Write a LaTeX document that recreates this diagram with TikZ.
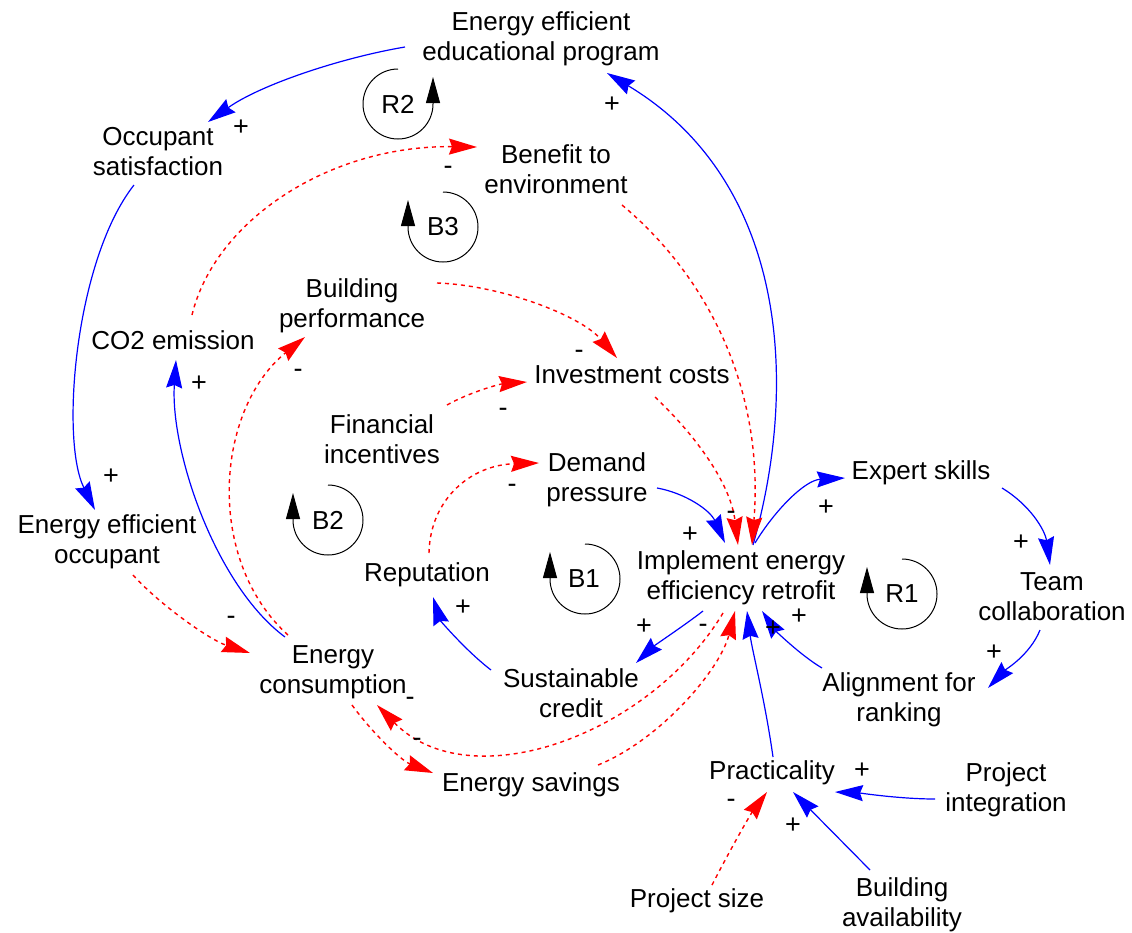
\documentclass[tikz,border=0pt]{standalone}
\usepackage{fontspec}
\setmainfont{Liberation Sans}
\usetikzlibrary{arrows.meta,calc}
\begin{document}
\begin{tikzpicture}[x=1pt,y=-1pt,
  var/.style={font=\fontsize{26}{30}\selectfont, align=center, inner sep=0pt},
  sgn/.style={font=\fontsize{27}{27}\selectfont, inner sep=0pt},
  lbl/.style={font=\fontsize{26}{30}\selectfont, inner sep=0pt},
  plink/.style={draw=blue, line width=1.2pt, -{Stealth[length=28pt,width=16pt,inset=3pt]}},
  nlink/.style={draw=red, line width=1.4pt, dash pattern=on 4pt off 4pt, -{Stealth[length=28pt,width=16pt,inset=3pt]}},
  loopc/.style={draw=black, line width=1pt, -{Triangle[length=26pt,width=14pt]}}]
\useasboundingbox (0,0) rectangle (1132,932);
\fill[white] (0,0) rectangle (1132,932);

% variables
\node[var] (EEP) at (541,39) {Energy efficient\\educational program};
\node[var] (OS) at (158,152) {Occupant\\satisfaction};
\node[var] (BE) at (556,169) {Benefit to\\environment};
\node[var] (BP) at (352,306) {Building\\performance};
\node[var] (CO2) at (173,340) {CO2 emission};
\node[var] (IC) at (632,375) {Investment costs};
\node[var] (FI) at (382,439) {Financial\\incentives};
\node[var] (DP) at (597,480) {Demand\\pressure};
\node[var] (ES) at (921,473) {Expert skills};
\node[var] (EEO) at (107,542) {Energy efficient\\occupant};
\node[var] (Rep) at (427,575) {Reputation};
\node[var] (IEER) at (741,578) {Implement energy\\efficiency retrofit};
\node[var] (TC) at (1052,597) {Team\\collaboration};
\node[var] (EC) at (333,672) {Energy\\consumption};
\node[var] (SC) at (571,693) {Sustainable\\credit};
\node[var] (AR) at (899,700) {Alignment for\\ranking};
\node[var] (ESav) at (531,785) {Energy savings};
\node[var] (Pract) at (772,773) {Practicality};
\node[var] (PI) at (1006,790) {Project\\integration};
\node[var] (PS) at (697,901) {Project size};
\node[var] (BA) at (902,905) {Building\\availability};

% loop labels
\node[lbl] (R2) at (398,104) {R2};
\node[lbl] (B3) at (443,227) {B3};
\node[lbl] (B2) at (328,520) {B2};
\node[lbl] (B1) at (584,579) {B1};
\node[lbl] (R1) at (902,594) {R1};

% loop arrows
\draw[loopc] (398,69) arc[start angle=-90, end angle=-360, radius=35] -- ++(0,-27);
\draw[loopc] (443,192) arc[start angle=-90, end angle=180, radius=35] -- ++(0,-27);
\draw[loopc] (328,485) arc[start angle=-90, end angle=180, radius=35] -- ++(0,-27);
\draw[loopc] (585,544) arc[start angle=-90, end angle=180, radius=35] -- ++(0,-27);
\draw[loopc] (902,559) arc[start angle=-90, end angle=180, radius=35] -- ++(0,-27);

% connectors
\draw[plink] ($(EEP)+(-136,8)$) .. controls (340,58) and (260,85) .. ($(OS)+(50,-30)$);
\draw[plink] ($(IEER)+(12,-33)$) .. controls (800,380) and (785,180) .. ($(EEP)+(66,34)$);
\draw[plink] ($(OS)+(-24,33)$) .. controls (75,260) and (60,440) .. ($(EEO)+(-12,-32)$);
\draw[nlink] ($(EEO)+(26,33)$) .. controls (160,605) and (210,640) .. ($(EC)+(-83,-19)$);
\draw[plink] ($(EC)+(-48,-35)$) .. controls (215,585) and (170,450) .. ($(CO2)+(3,20)$);
\draw[nlink] ($(CO2)+(19,-25)$) .. controls (215,220) and (330,145) .. ($(BE)+(-79,-22)$);
\draw[nlink] ($(EC)+(-45,-37)$) .. controls (205,560) and (215,410) .. ($(BP)+(-47,31)$);
\draw[nlink] ($(BP)+(85,-23)$) .. controls (500,285) and (580,315) .. ($(IC)+(-15,-17)$);
\draw[nlink] ($(FI)+(65,-34)$) .. controls (470,392) and (500,384) .. ($(IC)+(-105,7)$);
\draw[nlink] ($(Rep)+(2,-22)$) .. controls (430,500) and (470,465) .. ($(DP)+(-58,-17)$);
\draw[plink] ($(DP)+(60,8)$) .. controls (685,493) and (710,510) .. ($(IEER)+(-16,-35)$);
\draw[nlink] ($(IC)+(23,22)$) .. controls (690,430) and (730,480) .. ($(IEER)+(-3,-33)$);
\draw[nlink] ($(BE)+(66,36)$) .. controls (700,270) and (765,380) .. ($(IEER)+(11,-33)$);
\draw[plink] ($(IEER)+(14,-35)$) .. controls (775,510) and (805,480) .. ($(ES)+(-76,5)$);
\draw[plink] ($(ES)+(81,15)$) .. controls (1030,505) and (1045,530) .. ($(TC)+(-2,-32)$);
\draw[plink] ($(TC)+(-12,33)$) .. controls (1030,655) and (1005,670) .. ($(AR)+(89,-12)$);
\draw[plink] ($(AR)+(-77,-32)$) .. controls (800,655) and (775,630) .. ($(IEER)+(21,33)$);
\draw[plink] ($(Pract)+(1,-16)$) .. controls (765,700) and (752,650) .. ($(IEER)+(6,33)$);
\draw[plink] ($(IEER)+(-38,33)$) .. controls (685,625) and (655,645) .. ($(SC)+(65,-30)$);
\draw[plink] ($(SC)+(-80,-23)$) .. controls (465,650) and (440,620) .. ($(Rep)+(6,22)$);
\draw[nlink] ($(IEER)+(-18,35)$) .. controls (650,735) and (470,800) .. ($(EC)+(44,33)$);
\draw[nlink] ($(EC)+(19,33)$) .. controls (370,730) and (400,760) .. ($(ESav)+(-98,-12)$);
\draw[nlink] ($(ESav)+(67,-20)$) .. controls (660,740) and (720,670) .. ($(IEER)+(-6,33)$);
\draw[plink] ($(PI)+(-71,9)$) .. controls (900,799) and (860,793) .. ($(Pract)+(63,19)$);
\draw[plink] ($(BA)+(-32,-35)$) -- ($(Pract)+(21,19)$);
\draw[nlink] ($(PS)+(15,-16)$) .. controls (730,850) and (750,815) .. ($(Pract)+(-5,19)$);

% polarity signs
\node[sgn] (sa) at (241,128) {+};
\node[sgn] (sb) at (612,105) {+};
\node[sgn] (sc) at (111,477) {+};
\node[sgn] (sd) at (231,620) {-};
\node[sgn] (se) at (199,384) {+};
\node[sgn] (sf) at (448,170) {-};
\node[sgn] (sg) at (298,373) {-};
\node[sgn] (sh) at (579,354) {-};
\node[sgn] (si) at (503,412) {-};
\node[sgn] (sj) at (512,488) {-};
\node[sgn] (sk) at (690,535) {+};
\node[sgn] (sl) at (731,515) {-};
\node[sgn] (sn) at (826,508) {+};
\node[sgn] (so) at (1021,543) {+};
\node[sgn] (sp) at (994,653) {+};
\node[sgn] (sq) at (799,617) {+};
\node[sgn] (sr) at (773,629) {+};
\node[sgn] (ss) at (644,627) {+};
\node[sgn] (st) at (463,608) {+};
\node[sgn] (su) at (410,701) {-};
\node[sgn] (sv) at (417,742) {-};
\node[sgn] (sw) at (703,628) {-};
\node[sgn] (sx) at (862,771) {+};
\node[sgn] (sy) at (793,826) {+};
\node[sgn] (sz) at (731,803) {-};
\end{tikzpicture}
\end{document}
